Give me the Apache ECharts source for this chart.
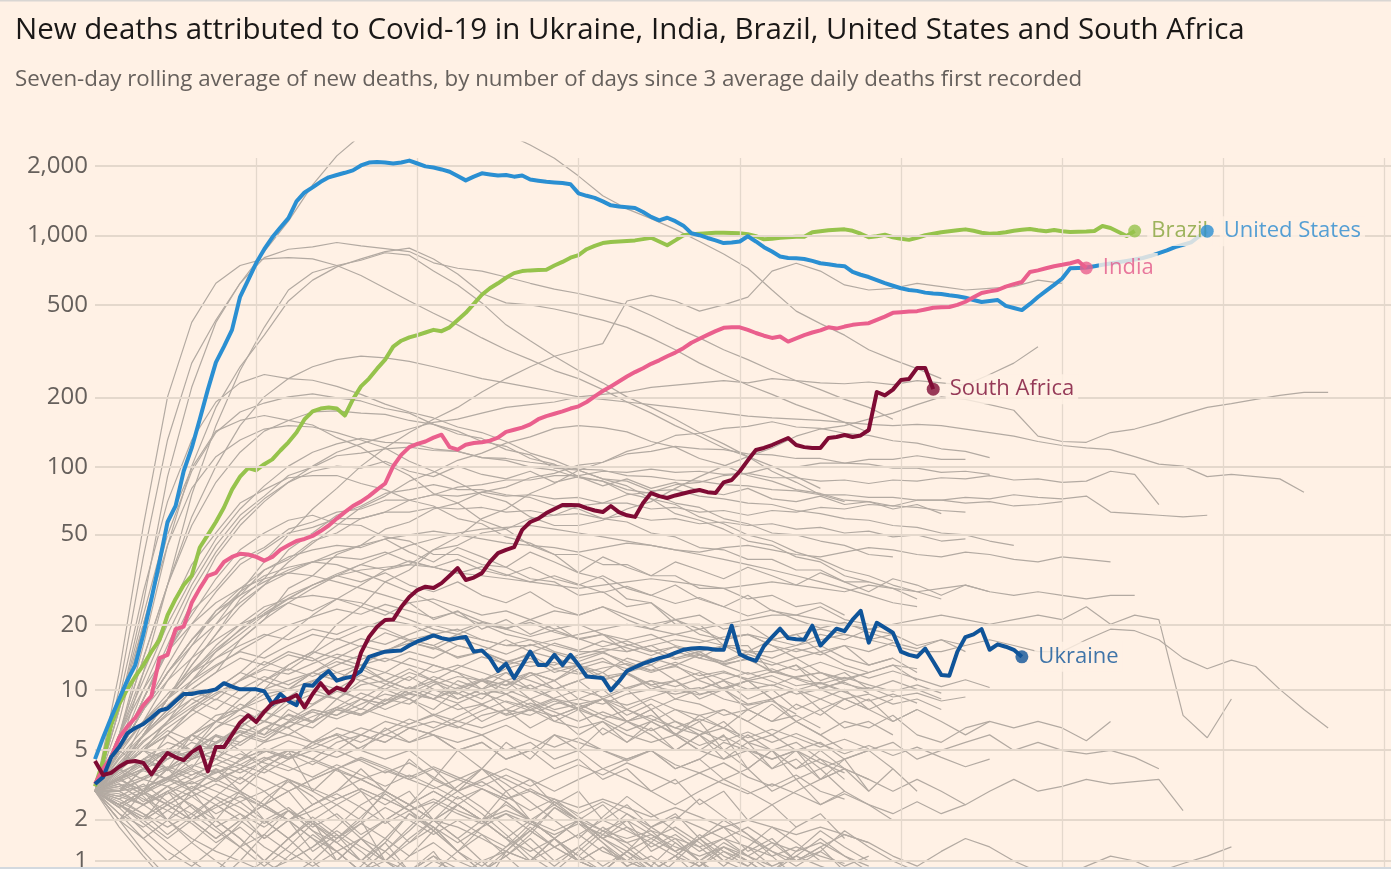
<!DOCTYPE html>
<html><head><meta charset="utf-8">
<script src="https://cdn.jsdelivr.net/npm/echarts@6/dist/echarts.min.js"></script>
<style>html,body{margin:0;padding:0;background:#fff1e5;}#c{width:1391px;height:869px;}</style>
</head><body><div id="c"></div>
<script>
// ---------- text ----------
const titleText = 'New deaths attributed to Covid-19 in Ukraine, India, Brazil, United States and South Africa';
const subtitleText = 'Seven-day rolling average of new deaths, by number of days since 3 average daily deaths first recorded';
// ---------- axes ----------
const yTicks = [1, 2, 5, 10, 20, 50, 100, 200, 500, 1000, 2000];
const yTickLabels = ['1', '2', '5', '10', '20', '50', '100', '200', '500', '1,000', '2,000'];
const xTicks = [20, 40, 60, 80, 100, 120, 140, 160];
// ---------- highlighted countries (daily, day 0 = first day with 3 avg deaths) ----------
const usDeaths = [4.5,5.8,7.3,9,11,13,18,26,38,57,67,95,120,160,215,282,330,390,542,640,758,870,980,1080,1185,1400,1530,1610,1700,1778,1820,1860,1905,2000,2060,2070,2060,2040,2060,2100,2040,1983,1960,1923,1880,1800,1725,1790,1850,1830,1810,1820,1790,1810,1740,1720,1700,1690,1680,1660,1517,1480,1450,1400,1346,1330,1320,1310,1260,1200,1160,1190,1150,1100,1020,1000,973,950,925,930,940,990,940,888,850,810,798,795,790,775,757,750,740,735,694,675,660,640,621,605,590,580,575,565,560,557,550,545,537,525,515,520,525,495,485,475,505,541,575,610,650,720,722,725,735,745,755,765,775,785,797,815,837,860,888,910,932,990,1041];
const brazilDeaths = [3.2,4.4,6.7,8.5,10,11.5,13,15,17,22,26,30,33,44,50,57,66,79,90,98,96,102,107,117,127,140,160,173,178,180,178,166,195,222,240,265,290,330,350,362,370,380,390,385,400,430,462,505,553,590,620,655,686,700,705,708,710,740,767,800,821,870,900,925,935,940,945,950,962,975,940,905,950,1000,1010,1015,1020,1025,1025,1022,1020,1010,990,960,965,975,980,985,985,1030,1040,1050,1055,1060,1045,1015,980,990,1005,980,965,955,975,1000,1015,1030,1040,1050,1060,1045,1025,1015,1020,1030,1045,1055,1064,1050,1040,1053,1040,1033,1035,1038,1043,1096,1075,1033,992,1043];
const indiaDeaths = [3.3,4,4.6,5.8,6.6,7.3,8.4,9.3,14,14.5,19,19.5,25,29,33,34,38,40,41.3,41,40,38.5,40,43,45,47,48,49.5,52,55,59,63,67,70,74,79,84,100,112,121,125,128,133,137,121,118,124,126,127,129,133,141,144,147,152,160,165,169,173,178,182,190,201,212,222,233,245,256,266,278,288,300,311,325,343,357,371,385,398,400,400,390,378,368,360,365,347,358,370,380,388,400,395,403,410,414,417,431,445,462,465,468,470,478,486,488,490,500,516,540,563,572,580,600,615,628,694,705,720,735,745,757,774,722];
const southAfricaDeaths = [4.4,3.7,3.8,4.1,4.35,4.4,4.3,3.73,4.3,4.85,4.6,4.45,4.9,5.2,3.87,5.2,5.2,6.0,6.9,7.5,6.95,7.8,8.6,8.8,9.0,9.4,8.2,9.5,10.7,9.6,10.2,9.9,11.1,14.8,17.5,19.5,20.9,21,23.9,26.5,28.5,29.5,29.1,30.6,33,35.7,31.6,32.4,33.9,38,41.6,43,44.2,52.6,57,59,62.4,65,67.7,67.7,67.5,65.6,64,63,67,63,61,60,69,76.3,74,72.6,74.5,76,77.5,78.7,77,76.3,85,87,95,106,117.6,120,123.6,128,132.6,123.6,121,120,120,132.6,134,136.6,134,136,143.6,210,203,215,236.6,239,266.7,266.7,216];
const ukraineDeaths = [3.3,3.6,4.6,5.2,6.1,6.5,6.8,7.3,7.9,8.1,8.8,9.5,9.5,9.7,9.8,10,10.7,10.3,10,10,10,9.8,8.5,9.5,8.8,8.4,10.5,10.4,11.4,12.2,11,11.3,11.5,12.2,14.2,14.6,15,15.1,15.2,16,16.7,17.2,17.8,17.3,17,17.3,17.5,15,15.2,14,12.2,13.2,11.3,13,15,13,13,14.5,13,14.5,13,11.5,11.4,11.3,9.9,10.9,12.2,12.7,13.2,13.6,14,14.3,14.8,15.3,15.5,15.6,15.5,15.3,15.3,19.7,14.6,14,13.6,15.9,17.5,19.1,17.3,17.1,17,19.7,16,17.5,19.1,18.6,21,23,16.5,20.3,19.3,18.3,15,14.5,14.2,15.5,13.5,11.7,11.6,15,17.5,18,19,15.3,16.2,15.8,15.3,14.2];
// ---------- other countries (grey), one value every 3 days from day 0 ----------
const greyStepDays = 3;
const greyHigh = [
 [3,8,25,90,220,420,620,850,1150,1650,2200,2700,3000,3200,3300,3200,3000,2750,2450,2150,1800,1480,1300,1180,1060,940,830,720,580,470,415,370,320,290,265,240],
 [3,10,40,130,280,430,620,800,870,890,930,900,875,850,760,720,700,660,620,585,560,530,500,450,400,360,320,290,260,235,215,195,180,160],
 [3,12,55,200,420,620,740,790,800,790,740,670,590,520,460,410,360,320,290,260,240,215,190,170,150,135,120,110,95,85,75,70],
 [3,6,16,45,100,180,270,370,520,640,730,790,850,880,790,680,560,510,500,480,455,430,400,360,320,280,250,225,205,185,170,155,140],
 [3,5,12,30,75,150,260,400,580,690,740,780,840,820,700,610,510,410,350,300,260,230,200,180,160,140,125,110,100,90,80],
 [3,4,6,9,14,20,28,38,50,65,80,100,120,140,160,180,210,240,270,300,320,340,520,550,520,470,500,540,700,757,700,610,580,590,620,600,580,590,600,640,620],
 [3,5,9,15,25,40,55,70,85,100,115,125,135,145,155,160,170,180,185,190,200,205,210,220,225,230,235,230,240,235,230,228,232,226,235,230,225,250,280,330]
];
const greyMid = [
 [3,8,20,45,80,110,130,145,150,148,140,130,120,105,95,85,75,70,60,55,55,58,65,70,80,90,100,110,120,135,145,150,160,170,185,200,195,185,175,135,128,127,140,145,155,168,180,187,195,203,209,209],
 [3,6,14,30,60,100,150,200,240,270,290,300,295,285,270,255,240,230,220,210,200,195,190,185,180,175,170,165,162,160,158,155,152,150,152,150,145,140,135,128,123,120,118,110,102,100,90,92,90,88,77],
 [3,5,9,15,23,29,39,44,53,57,63,65,71,71,75,74,77,74,75,72,73,69,69,65,66,63,64,61,64,63,66,65,68,67,71,71,73,72,75,73,72,74,63,62,61,60,61],
 [3,4,7,11,16,23,27,35,39,47,51,59,63,71,75,81,83,87,87,91,91,95,94,97,94,95,92,93,89,89,86,87,84,87,86,89,88,91,87,88,85,86,95,92,68],
 [3,5,8,12,16,20,25,30,34,38,42,45,48,50,52,50,48,46,45,44,42,44,46,45,43,42,44,45,43,41,40,42,44,43,41,40,42,41,39,38,40,39,38],
 [3,4,6,9,12,15,19,23,27,30,33,35,36,37,36,34,33,32,31,30,29,30,31,32,31,30,29,30,31,30,29,28,30,29,28,29,30,28,27,28,27,26,27,27],
 [3,9,28,70,130,190,230,250,240,236,222,205,186,172,162,148,140,128,114,106,96,88,82,72,68,60,56,50,47,42,39,35,33,30,28,26],
 [3,7,20,50,95,140,172,188,200,206,198,192,178,170,152,142,128,122,108,102,90,86,76,72,62,58,53,47,45,40,38,33,31,29,26],
 [3,6,14,30,55,85,115,142,158,172,174,170,168,158,152,138,132,118,112,98,96,88,86,78,79,74,72,69,68,64,62,59,58,55,54,51,50,47,45],
 [3,4,6,9,13,18,24,30,38,46,55,66,74,86,94,106,114,126,134,146,150,147,141,128,121,108,101,91,86,79,76,71,70,67,66,64,63],
 [3,5,10,18,30,45,61,74,91,99,111,114,119,121,117,116,109,106,99,96,89,86,79,76,69,66,59,56,51,50,47,45,41,40],
 [3,6,11,20,32,48,65,82,100,115,125,132,127,126,119,116,109,108,104,101,97,96,91,90,87,86,83,82,79,78,75,75,73,73,71,71,69,70,67,68,70],
 [3,5,9,16,28,42,58,72,85,95,100,98,105,95,90,100,92,88,95,85,90,82,88,80,85,78,75,80,72,70,74,68,70,65,68,62],
 [3,5,9,15,22,32,43,51,58,61,56,55,49,47,41,41,37,36,32,31,27,28,24,25,21,22,19,20,17,18,15,16,13,14],
 [3,4,5,7,10,12,17,21,29,33,41,45,53,57,65,69,77,81,89,93,101,104,113,116,122,119,118,113,112,108,108,103,102,98,98,94,95,92],
 [3,6,12,22,37,51,69,79,89,91,91,84,79,71,67,59,56,49,46,41,41,37,37,33,33,29,29,26,27,24,25,22],
 [3,5,8,12,17,23,29,35,40,43,45,44,48,42,38,44,40,36,42,38,34,40,36,33,38,35,32,36,33,30,34,31,28,32,30,27,30,28],
 [3,3,4,4.5,5,6.5,8,10,13,15,20,24,31,35,43,49,59,65,76,84,96,104,116,123,136,139,146,149,156,148,146,139,136,129,126,119,116,109],
 [3,8,22,55,98,142,158,166,158,151,133,121,103,91,76,69,58,53,45,41,34,32,26,25,20,20,16,16,12,13,10,11],
 [3,5,8,13,20,28,37,43,51,54,59,59,63,63,66,65,66,63,64,61,62,59,61,58,59,56,57,55,56,53,54,51,52,49,50,47,48],
 [3,4,6,9,13,18,26,32,43,51,61,67,76,79,83,79,79,75,73,67,65,59,57,51,49,44,43,39,39,35,35,31,31],
 [3,4,5,6,8,10,12,15,18,22,26,30,35,37,43,45,51,53,59,61,67,69,75,77,83,85,91,93,99,99,103,103,107,107,111,107,107],
 [3,5,8,12,17,22,27,31,35,38,40,39,42,38,36,39,35,33,36,32,30,33,29,27,30,26,24,27,23,22,24,21,20],
 [3,4,6,8,11,14,17,21,25,29,33,37,41,45,48,51,53,54,55,53,51,49,47,45,43,41,39,37,35,33,31,29,27,25,24],
 [3,6,10,15,20,25,29,32,34,33,31,29,27,25,26,24,22,23,21,19,20,18,17,18,16,15,16,14,13,14,12,11,12]
];
const greyLate = [
 [3,5,8,12,17,22,28,33,36,38,37,34,31,28,25,22,20,18,17,16,15,15,16,17,18,19,20,21,22,22,21,20,19,20,21,22,21,20,21,22,21,24,20,22,21,7.5,5.8,9],
 [3,4,6,9,12,16,20,24,26,27,26,25,23,21,19,18,17,16,16,17,18,19,20,19,18,17,16,15,15,16,17,18,17,16,15,15,16,17,16,15,15,17,19,18.7,17,14,12.5,13.7,12.8,10,8,6.5],
 [3,3.5,4.5,5,6,7.5,8,9.5,10,11,12,11,10,11.5,10,9,10,9.5,8,9,8.5,9,8,7,8,7.5,8,7,8.5,7,6,7,6.5,7.5,6,5.5,6.5,7,6.5,7,6.5,5.6,7],
 [3,2.5,3,3.5,4,3.5,4.5,5,4.5,5.5,6,5,6.5,5.5,6,5,5.5,4.5,5,6,5.5,5,4.5,5,4,4.5,5.5,5,4.5,5,4,4.5,5,5.5,4.5,5,5.5,6,5,5.5,5,4.8,5,4.6,4],
 [3,3.5,3,2.5,3,3.5,4,3.5,3,3.5,4,4.5,4,3.5,4,3,3.5,4,3.5,3,3.5,4,3.5,3,2.5,3,3.5,3,2.5,3,3.5,4,3.5,3,3.5,3,2.5,3,3.5,3,3.2,3.5,3.3,3.4,3.5,2.3],
 [3,2.5,2,2.5,2,1.5,2,2.5,2,1.5,1.2,1.5,2,2.5,2,1.8,1.5,1.2,1,1.3,1.6,2,1.7,1.4,1.1,1.5,1.8,1.5,1.2,1,1.3,1.6,1.4,1.1,0.9,1.2,1.5,1.3,1,0.8,0.7,0.9,1.1,1,0.8,0.95,1.1,1.3]
];
const greyLow = [
 [3,4,5,4,6,5,7,6,8,7,9,8,10,9,8,10,9,11,10,9,8,9,7,8,6,7,5,6,5,4,5,4,3,4,3],
 [3,2.5,3,2,3,4,3,2,1.5,2,1,1.5,1,0.7,1,0.8,0.5,1.2,1,1.5,1,0.8,0.5],
 [3,3.5,4,5,6,7,8,9,10,12,11,13,12,14,13,12,11,12,10,11,9,10,8,9,8,7,8,7,6,7,6,5],
 [3,2,2.5,3,2,1.5,2,2.5,3,2,1.5,2,1,1.5,2,1.5,1,1.2,1.8,1.3,1,0.8,1.2,0.9,1.4,1,0.6],
 [3,5,7,9,12,14,16,18,17,19,18,20,19,17,18,16,15,17,15,14,13,14,12,13,11,12,10,11,9,10,9,8,9,7,8,7,6,7],
 [3,4,3,5,4,6,5,4,5,3,4,3,2.5,3,2,2.5,2,3,2,1.5,2,1.5,2,1.2,1.5,1,1.3,1,0.7],
 [3,4,6,8,10,12,14,13,15,14,12,13,11,10,11,9,10,8,9,7,8,6,7,6,5,6,5,4,5,4,4.5,3.5],
 [3,3,4,3.5,5,4.5,6,5.5,7,6.5,8,7.5,9,8.5,10,9.5,11,10,12,11,13,12,14,13,15,14,16,15,17,16,18,17,19,18],
 [3,2.5,2,3,2.5,1.8,2.2,1.5,2,1.2,1.6,1,1.4,0.8,1.2,0.6],
 [3,5,4,6,8,7,9,11,10,12,14,13,15,17,16,18,20,19,21,23,22,24,22,20,21,19,17,18,16,14,15,13,12,13,11],
 [3,3.5,3,4,3.5,4.5,4,5,4.5,5.5,5,6,5.5,6.5,6,5,5.5,4.5,5,4,4.5,3.5,4,3,3.5,2.5,3,2,2.5,1.8,2.2,1.5],
 [3,4,5,6,5,7,8,7,9,10,9,11,12,11,13,12,10,11,9,10,8,9,7,8,6,5,6,4,5,3.5,4,3],
 [3,2,3,4,3,2,3,2.5,3.5,2.5,3,4,3,4.5,3.5,5,4,5.5,4.5,6,5,6.5,5.5,7,6,7.5,6.5,8,7,8.5,7.5,9,8],
 [3,3,2.5,2,1.5,1.2,1,0.8,1,1.3,1.8,2.5,3,2.5,3.5,3,4,3.5,3,2.5,2,2.5,1.8,1.5,1.2,1.5,1,0.8],
 [3,5,8,11,14,17,20,22,25,23,26,24,22,25,21,23,19,21,18,20,17,18,15,16,14,15,13,14,12,13,11,12,10,11,10,9],
 [3,3,3.5,4,4.5,5,6,7,6.5,8,7.5,9,8.5,10,9,11,10,12,11,10,11,9,10,8,9,8.5,7.5,8,7,7.5,6.5],
 [3,2.8,2.5,3.2,2.8,2.2,2.6,2,2.4,1.8,2.2,1.6,2,1.4,1.8,1.2,1.6,1.1,1.5,1,1.3,0.9,1.2,0.8,1.1,0.7],
 [3,4,5.5,7,8.5,10,9,11,12.5,11.5,13,14.5,13.5,15,14,16,15,13.5,14.5,12.5,13,11.5,12,10.5,11,9.5,10,8.5,9],
 [3,3.5,4.5,4,5,6,5.5,6.5,7.5,7,8,9,8.5,10,9,8,8.5,7.5,8,7,6.5,7,6,5.5,6,5,4.5,5,4,4.5,3.5,4,3.5],
 [3,2.5,3,3.5,3,2.5,2,2.5,3,3.5,4,3.5,3,2.5,3,2.5,2,1.5,2,2.5,2,1.5,1.2,1.5,1.8,1.4,1,1.3,0.9],
 [3,4,6,8,11,15,18,22,26,30,33,31,34,30,28,31,27,25,28,24,22,24,21,19,21,18,17,18,16,15,16,14,13,14,12],
 [3,3,3.2,3.5,3.3,3.8,4.2,3.8,4.5,5,4.6,5.2,6,5.5,6.3,7,6.5,7.2,8,7.4,8.2,9,8.4,9.2,10,9.4,10.2,11,10.4,11.5,12,11.2,12,13,12.5],
 [3,2,1.5,2,2.5,2,1.5,1,1.5,2,2.5,2,3,2.5,2,2.5,2,1.5,1,1.5,1,0.8,1.2,0.9,0.6],
 [3,4,5,6,7.5,9,8,10,11,12,11,13,14,13,12,13,12,11,12,10,11,12,10,11,9,10,11,9,10,8,9,10,8,9],
 [3,3.5,4,3.5,4.5,5,4.5,5.5,6,5.5,6.5,6,7,6.5,6,5.5,6,5,5.5,4.5,5,4,4.5,5,4,4.5,3.5,4,3,3.5,2.5,3,2.5,2],
 [3,5,7,9,11,13,15,14,16,18,17,19,21,20,18,19,17,16,17,15,14,15,13,12,13,11,10,11,9,10,8,9,8,7,8],
 [3,2.5,2,2.5,3,3.5,3,4,3.5,3,2.5,3,2,2.5,2,1.5,2,1.5,1.2,1.5,1,1.3,0.9,1.1,0.8],
 [3,3.5,4,5,4.5,5.5,6.5,6,7,8,7.5,8.5,9.5,9,10.5,11.5,11,12.5,13.5,13,14.5,15.5,15,16,17,16.5,17.5,18,17,18,19,18,17,18,16,17,15],
 [3,4,3.5,4.5,5.5,5,6,7,6.5,5.5,6,5,4.5,5,4,3.5,4,3,3.5,2.5,3,2,2.5,1.8,2.2,1.5,1.8,1.2,1.5,1,1.3,0.8],
 [3,3,2.5,3,3.5,4,3.5,4.5,5,4.5,5.5,6,5.5,6.5,7,6.5,7.5,8,7.5,8.5,9,8.5,9.5,10,9.5,10,11,10,10.5,9.5,10,9,9.5,8.5,9,8],
 [3,4,5,7,9,10,12,11,13,15,14,16,15,17,16,14,15,13,14,12,13,11,12,10,11,9,10,8,9,7,8,6.5,7,6],
 [3,2.5,2,1.5,2,2.5,3,2.5,2,2.5,3,3.5,3,2.5,3,2.5,2,2.5,2,1.5,2,1.5,1.8,1.3,1.6,1.2,1.5,1.1,1.4,1,1.2,0.9,1.1],
 [3,4.5,6,7.5,9,8,10,11.5,10.5,12,13.5,12.5,11,12.5,11,10,11,9.5,10.5,9,8,9,7.5,8.5,7,6,7,5.5,6,5,5.5,4.5,5,4],
 [3,3.5,3,4,5,4.5,5.5,6.5,6,7,8,7.5,8.5,9.5,9,10,11,10.5,12,11,12.5,13.5,12.5,14,13,14.5,13.5,15,14,15.5,14.5,16,15,16.5,15.5,17,16],
 [3,2.5,3,2.5,2,2.5,2,1.5,2,1.5,1,1.5,1.2,0.8,1.1,0.7,1,0.6],
 [3,4,5,4.5,6,7,6.5,8,9,8.5,10,9,8,9,7.5,8.5,7,8,6.5,7.5,6,7,5.5,6.5,5,6,4.5,5.5,4,5,3.5,4.5,3],
 [3,3.5,4.5,5.5,5,6.5,7.5,7,8.5,9.5,9,10.5,11,10,11.5,10.5,9.5,10,9,8,8.5,7.5,7,7.5,6.5,6,6.5,5.5,5,5.5,4.5,4],
 [3,2.8,3.3,2.6,2.2,2.8,2.4,1.9,2.3,1.7,1.4,1.9,1.5,1.1,1.4,1,0.8,1.1,0.7],
 [3,4.2,5.6,6.8,8.2,9.6,11,12.4,11.8,13.2,14.6,13.8,15.2,16.4,15.6,14.2,15,13.6,12.8,13.4,12,11.2,11.8,10.4,9.8,10.2,9,8.4,8.8,7.6],
 [3,2.4,2.9,3.6,3.1,3.9,3.3,4.1,4.8,4.2,5,4.4,3.8,4.3,3.6,3,3.4,2.8,2.3,2.7,2.1,1.7,2,1.6,1.2,1.5,1.1,0.9],
 [3,3.8,4.4,3.9,4.7,5.5,6.2,5.6,6.6,7.4,8.2,7.6,8.8,9.6,9,10.2,11.2,10.4,11.6,12.4,11.8,12.6,13.2,12.2,12.8,11.6,12.2,11,11.6,10.4,10.8,9.8,10.2,9.2,9.6,8.8,9.2],
 [3,3.2,2.7,2.3,2.8,3.3,2.9,2.4,2,2.5,2.9,2.4,1.9,2.3,1.8,1.4,1.8,2.2,1.7,1.3,1.6,1.2,1,0.8],
 [3,4.6,6.4,8.4,10.6,12.8,15.2,17.6,19.8,21.6,23.4,22.2,24.6,23,21.4,22.8,20.6,19.2,20.4,18.4,17.2,18,16.2,15,15.8,14,13.2,13.8,12.2,11.4,12,10.6,10],
 [3,2.6,2.2,1.8,2.2,1.7,1.3,1.6,1.2,0.9,1.2,0.8,1,0.7],
 [3,3.6,4.3,5.1,4.6,5.4,6.3,5.8,6.9,7.8,7.2,8.1,7.4,6.8,7.5,6.6,6,6.7,5.8,5.2,5.8,5,4.4,5,4.2,3.8,4.3,3.6,3.2,3.7,3,2.7],
 [3,3.4,3.9,3.5,4.1,4.7,4.2,4.9,5.6,5.1,5.8,6.5,6,6.8,7.6,7,7.9,8.8,8.2,9.1,9.9,9.2,10.2,11,10.3,11.2,12,11.2,12.1,11.3,10.6,11.4,10.5,9.8,10.5,9.6],
 [3,2.5,2.1,2.6,3.2,2.7,2.2,1.8,2.3,1.9,1.5,1.9,2.4,2,1.6,2,1.6,1.3,1.7,1.3,1,1.3,1,0.8,1.1,0.9,1.2,1,0.7],
 [3,4,5.2,6.5,7.9,9.4,11,12.7,14.5,13.6,15.4,17.2,16.2,18,19.8,18.6,20.4,19,17.6,18.8,17.2,15.8,16.8,15.2,13.8,14.6,13,11.8,12.5,11.2,10.2,10.8,9.6],
 [3,3.3,2.9,3.4,3.9,3.4,4,4.6,4.1,3.6,4.2,3.7,3.2,3.7,3.2,2.7,3.1,2.7,3.1,2.6,2.2,2.6,2.2,1.8,2.1,1.8,1.5,1.8,1.4,1.2,1.4,1.1,0.9],
 [3,3.9,5,6.3,5.6,7,8.5,7.7,9.2,10.9,10,11.7,10.6,9.6,10.8,9.6,8.5,9.5,8.4,7.4,8.2,7.2,6.3,7,6.1,5.3,5.9,5.1,4.5,5,4.3,3.8],
 [3,2.7,3.1,3.6,4.2,3.8,4.4,5.1,4.6,5.3,6.1,5.5,6.3,7.2,6.5,7.4,8.4,7.6,8.6,7.8,7,7.8,7,6.3,7,6.3,5.6,6.2,5.5,6.1,5.4,4.8,5.3,4.7,5.2,4.6,4.1,4.5],
 [3,2.2,1.8,2.3,1.9,1.4,1.8,1.3,1,1.3,1.7,1.3,1,0.8,1.1,0.85,0.7],
 [3,4.8,7,9.5,12.3,15.4,18.8,22.4,26.2,30,33.6,37,35,38.4,36,33.8,36.2,33.4,31,33,30.2,27.8,29.6,27,24.8,26.4,24,21.8,23.2,21,19.2,20.4,18.4,16.8],
 [3,3.1,3.5,3.2,3.7,4.2,3.8,4.4,5,4.5,4,4.6,4.1,3.6,4.1,3.6,3.2,3.7,3.2,3.7,4.2,3.7,4.3,3.8,3.3,3.8,3.3,2.9,3.3,2.9,2.5,2.9,2.5,2.2,2.6,2.2,2.5],
 [3,3.5,4.2,5,6,5.5,6.6,7.8,7.1,8.4,9.8,9,10.5,12,11,12.6,14.2,13.2,14.8,16.4,15.2,16.8,15.6,14.4,15.8,14.6,13.4,14.6,13.4,12.3,13.4,12.3,11.3,12.2,11.2,10.3,11.1,10.2],
 [3,2.4,2.9,2.5,2,2.4,2.8,2.4,2,2.3,2.7,3.1,2.7,2.3,2.6,2.2,1.9,2.2,1.9,1.6,1.9,1.6,1.4,1.6,1.3,1.1,1.3,1.1,0.9,1.1,0.9,0.75],
 [3,3.7,4.5,4,4.9,5.9,5.3,6.4,7.6,6.9,8.2,9.6,8.8,10.3,9.4,8.6,9.6,8.7,7.9,8.8,8,7.2,8,7.2,6.5,7.2,6.5,5.8,6.4,5.8,5.2,5.7,5.1],
 [3,2.9,2.5,2.9,3.4,3,2.6,3,3.5,3.1,2.7,3.1,2.7,2.3,2.7,2.3,2,2.3,2,1.7,2,1.7,1.5,1.7,1.5,1.3,1.5,1.3,1.1,1.3,1.1,0.95],
 [3,4.3,5.9,7.7,9.8,8.9,11.1,13.5,12.3,14.7,17.2,15.8,18.3,16.8,15.4,17.4,15.9,14.6,16.2,14.8,13.5,14.8,13.5,12.3,13.4,12.2,11.1,12,10.9,9.9,10.7,9.7,8.8,9.5,8.6],
 [3,3.2,3.6,4.1,3.7,4.2,4.8,4.3,3.9,4.4,3.9,3.5,3.9,3.5,3.1,3.5,3.1,2.7,3,2.7,2.4,2.7,2.4,2.1,2.4,2.1,1.8,2,1.8,1.6,1.8,1.6,1.4],
 [3,2,1.2,0.7,0.5,0.8,1.3,2,1.5,1,0.6,0.9,1.4,2.2,1.8,1.2,0.8,1.1,1.6,2.4,2,1.4,0.9,0.6,1,1.5,2,1.6,1.1,0.7],
 [3,1.8,1.1,0.6,0.4,0.6,1,1.6,2.3,1.9,1.4,1,0.7,1.1,1.7,2.5,3.1,2.6,2,1.5,1.1,0.8,1.2,1.8,1.4,1,0.7,0.5,0.8,1.2,1.7,1.3,1],
 [3,2.4,1.7,1.2,0.9,1.3,1.9,2.7,3.4,2.8,2.1,1.5,1,1.4,2,2.8,2.2,1.6,1.1,0.8,1.2,1.7,1.3,0.9,0.6,0.9,1.3,1],
 [3,2.7,2.2,1.6,2.1,2.8,3.6,3,2.3,1.7,1.2,0.8,1.2,1.8,2.5,3.2,4,3.3,2.6,2,1.5,2.1,2.8,2.2,1.7,1.3,0.9,1.3,1.8,1.4,1],
 [3,3.6,2.8,2,1.4,1,0.7,1,1.5,2.1,1.6,1.2,0.8,0.5,0.8,1.2,1.8,2.6,2,1.5,1.1,1.6,2.2,1.7,1.2,0.9],
 [3,2.2,1.5,1,1.4,2,1.5,1,0.7,1,1.5,2.1,2.9,2.3,1.7,1.2,0.8,1.2,1.7,2.4,1.9,1.4,1,1.4,2,2.7,2.1,1.6,1.2,0.9,1.2,1.7,1.3,1,0.8],
 [3,3.3,2.6,3.2,2.4,1.8,1.3,0.9,1.3,1.9,1.4,1,1.5,2.2,1.7,1.2,0.9,1.3,1.9,2.6,2,1.5,1.1,0.8,1.1,1.6,1.2,0.9,1.3,1.8],
 [3,2.5,1.9,1.4,1,0.7,0.5,0.7,1.1,1.6,1.2,0.8,1.2,1.7,2.4,3,2.4,1.8,1.3,0.9,1.3,1.8,1.4,1,0.7,1,1.4,1.1,0.8,1.1,1.5,1.1,0.8]
];

// ---------- build chart ----------
const T = v => Math.log10(v + 1);          // log(deaths + 1) vertical scale
const Y_MIN = 0.2665, Y_MAX = 3.4026, X_MAX = 160.8;
const GRID_V_TOP = Y_MAX - 0.069;
const FONT = '"Open Sans", "Noto Sans", sans-serif';
const BG = '#fff1e5';

const series = [];
series.push({
  type: 'line', data: [], silent: true, z: 1,
  markLine: {
    silent: true, symbol: 'none', animation: false,
    label: { show: false },
    data: yTicks.map((t, i) => ({
      yAxis: T(t),
      lineStyle: { color: '#e4d8cc', width: 2, type: 'solid' },
      label: { show: true, position: 'start', distance: 7, formatter: yTickLabels[i],
               color: '#66605c', fontSize: 24, fontFamily: FONT }
    })).concat(xTicks.map(x => [
      { coord: [x, GRID_V_TOP], lineStyle: { color: '#e4d8cc', width: 1.3, type: 'solid' }, label: { show: false } },
      { coord: [x, Y_MIN] }
    ]))
  }
});

[].concat(greyLow, greyLate, greyMid, greyHigh).forEach(arr => {
  series.push({
    type: 'line', silent: true, z: 2, symbol: 'none',
    data: arr.map((v, i) => [i * greyStepDays, T(v)]),
    lineStyle: { color: '#b3aaa2', width: 1.2 }
  });
});

const highlighted = [
  { name: 'Brazil', values: brazilDeaths, color: '#96c34c', text: '#84a23a', z: 4, layer: 1 },
  { name: 'United States', values: usDeaths, color: '#2a8fd2', text: '#2a8ad0', z: 5, layer: 2 },
  { name: 'India', values: indiaDeaths, color: '#ea5f8d', text: '#e2588a', z: 6, layer: 1 },
  { name: 'Ukraine', values: ukraineDeaths, color: '#0f5499', text: '#0f5499', z: 7, layer: 1 },
  { name: 'South Africa', values: southAfricaDeaths, color: '#7f0b34', text: '#7a0a33', z: 8, layer: 1 }
];
highlighted.forEach(c => {
  series.push({
    type: 'line', silent: true, z: c.z, symbol: 'none',
    data: c.values.map((v, i) => [i, T(v)]),
    lineStyle: { color: c.color, width: 4, join: 'round' }
  });
});
highlighted.forEach(c => {
  const last = c.values.length - 1;
  series.push({
    type: 'scatter', silent: true, zlevel: c.layer, z: 10, symbolSize: 13,
    itemStyle: { color: c.color },
    data: [[last, T(c.values[last])]],
    label: { show: true, position: 'right', distance: 6, formatter: c.name,
             color: c.text, fontSize: 22, fontFamily: FONT,
             backgroundColor: BG, padding: [4, 4] }
  });
});

const chart = echarts.init(document.getElementById('c'));
chart.setOption({
  animation: false,
  backgroundColor: BG,
  grid: { left: 95, right: 0, top: 142, bottom: 0, containLabel: false },
  xAxis: { type: 'value', min: 0, max: X_MAX, show: false },
  yAxis: { type: 'value', min: Y_MIN, max: Y_MAX, show: false },
  graphic: [
    { type: 'rect', shape: { x: 0, y: 0, width: 1391, height: 1.5 }, style: { fill: '#d9d6d3' }, silent: true },
    { type: 'rect', shape: { x: 0, y: 867, width: 1391, height: 2 }, style: { fill: '#d3d9df' }, silent: true, z: 100 },
    { type: 'text', x: 15, y: 31, silent: true,
      style: { text: titleText, fill: '#1a1817', font: '29.5px ' + FONT, verticalAlign: 'middle' } },
    { type: 'text', x: 15, y: 80, silent: true,
      style: { text: subtitleText, fill: '#66605c', font: '22.3px ' + FONT, verticalAlign: 'middle' } }
  ],
  series: series
});
</script>
</body></html>
